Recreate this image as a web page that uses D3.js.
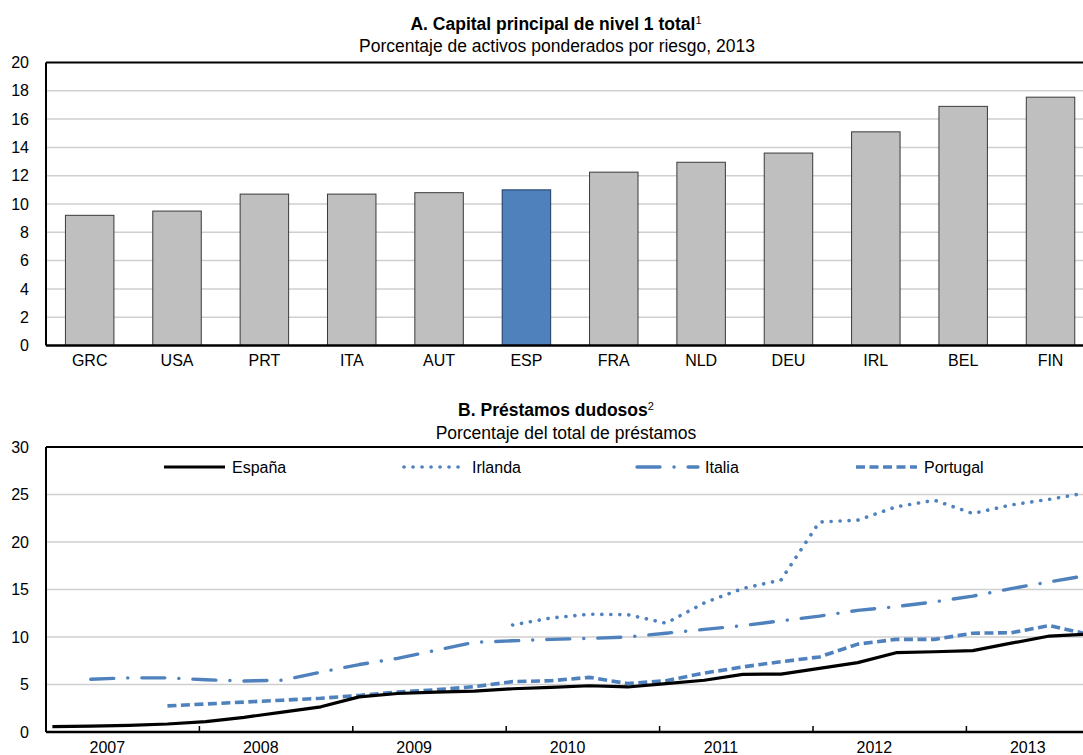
<!DOCTYPE html>
<html>
<head>
<meta charset="utf-8">
<script src="https://cdn.jsdelivr.net/npm/d3@7"></script>
<style>
  body { margin: 0; background: #fff; }
  text { font-family: "Liberation Sans", Arial, sans-serif; fill: #000; }
  .grid line { stroke: #cfcfcf; stroke-width: 1.5; }
  .tick text { font-size: 16px; }
</style>
</head>
<body>
<div id="chart"></div>
<script>
// panel A data
const countries = ["GRC", "USA", "PRT", "ITA", "AUT", "ESP", "FRA", "NLD", "DEU", "IRL", "BEL", "FIN"]
const capital = [9.2, 9.5, 10.7, 10.7, 10.8, 11.0, 12.25, 12.95, 13.6, 15.1, 16.9, 17.55]
const yTicksA = [0, 2, 4, 6, 8, 10, 12, 14, 16, 18, 20]

// panel B data (quarterly, month index of each observation)
const quarters = [0, 3, 6, 9, 12, 15, 18, 21, 24, 27, 30, 33, 36, 39, 42, 45, 48, 51, 54, 57, 60, 63, 66, 69, 72, 75, 78, 81]
const years = ["2007", "2008", "2009", "2010", "2011", "2012", "2013"]
const espana = [0.56, 0.62, 0.7, 0.84, 1.1, 1.54, 2.1, 2.65, 3.7, 4.05, 4.2, 4.3,
                4.55, 4.7, 4.87, 4.74, 5.1, 5.45, 6.07, 6.1, 6.7, 7.3, 8.35, 8.45,
                8.56, 9.35, 10.1, 10.3]
const irlanda = [null, null, null, null, null, null, null, null, null, null, null, null,
                 11.26, 12.0, 12.4, 12.35, 11.45, 13.6, 15.1, 16.0, 22.1, 22.3, 23.7, 24.4,
                 23.0, 23.9, 24.5, 25.2]
const italia = [null, 5.55, 5.7, 5.7, 5.5, 5.37, 5.45, 6.3, 7.1, 7.75, 8.6, 9.44,
                9.6, 9.75, 9.85, 10.0, 10.4, 10.8, 11.2, 11.7, 12.2, 12.8, 13.2, 13.7,
                14.3, 15.1, 15.8, 16.5]
const portugal = [null, null, null, 2.75, 2.95, 3.15, 3.35, 3.55, 3.85, 4.2, 4.45, 4.77,
                  5.3, 5.4, 5.75, 5.1, 5.4, 6.2, 6.85, 7.4, 7.9, 9.25, 9.75, 9.75,
                  10.4, 10.45, 11.2, 10.3]
const yTicksB = [0, 5, 10, 15, 20, 25, 30]

const width = 1083, height = 755
const blue = "#4f81bd"

const svg = d3.select("#chart")
  .append("svg")
    .attr("width", width)
    .attr("height", height)

// ---------- panel A ----------
const left = 46
const xA = d3.scaleBand()
    .domain(countries)
    .range([left, left + 12 * 87.35])
    .paddingInner(0.445)
    .paddingOuter(0.2225)
const yA = d3.scaleLinear().domain([0, 20]).range([345.5, 62.5])

svg.append("g")
    .attr("class", "grid")
  .selectAll("line")
  .data(yTicksA.filter(d => d > 0 && d < 20))
  .join("line")
    .attr("x1", left).attr("x2", width)
    .attr("y1", d => yA(d)).attr("y2", d => yA(d))

svg.append("g")
  .selectAll("rect")
  .data(countries)
  .join("rect")
    .attr("x", d => xA(d))
    .attr("width", xA.bandwidth())
    .attr("y", (d, i) => yA(capital[i]))
    .attr("height", (d, i) => yA(0) - yA(capital[i]))
    .attr("fill", d => d == "ESP" ? blue : "#bfbfbf")
    .attr("stroke", d => d == "ESP" ? "#1f3a60" : "#3a3a3a")
    .attr("stroke-width", 1)

svg.append("g")
    .attr("transform", `translate(${left},0)`)
    .call(d3.axisLeft(yA).tickValues(yTicksA).tickSize(0).tickPadding(17))
    .call(g => g.select(".domain").remove())

svg.append("g")
    .attr("transform", `translate(0,${yA(0)})`)
    .call(d3.axisBottom(xA).tickSize(0).tickPadding(9))
    .call(g => g.select(".domain").remove())

// frame
svg.append("line").attr("x1", left).attr("x2", width).attr("y1", yA(20)).attr("y2", yA(20))
    .attr("stroke", "#000").attr("stroke-width", 2)
svg.append("line").attr("x1", left).attr("x2", width).attr("y1", yA(0)).attr("y2", yA(0))
    .attr("stroke", "#000").attr("stroke-width", 2.5)
svg.append("line").attr("x1", left).attr("x2", left).attr("y1", yA(20)).attr("y2", yA(0))
    .attr("stroke", "#000").attr("stroke-width", 2)

const titleA = svg.append("text")
    .attr("x", 556).attr("y", 30)
    .attr("text-anchor", "middle")
    .style("font-size", "17.5px").style("font-weight", "bold")
titleA.append("tspan").text("A. Capital principal de nivel 1 total")
titleA.append("tspan").attr("dy", -6).style("font-size", "11px").style("font-weight", "normal").text("1")

svg.append("text")
    .attr("x", 557).attr("y", 52)
    .attr("text-anchor", "middle")
    .style("font-size", "17.5px")
    .text("Porcentaje de activos ponderados por riesgo, 2013")

// ---------- panel B ----------
const monthW = 153.4 / 12
const xB = d3.scaleLinear().domain([0, 84]).range([left, left + 84 * monthW])
const yB = d3.scaleLinear().domain([0, 30]).range([732, 447])

svg.append("g")
    .attr("class", "grid")
  .selectAll("line")
  .data(yTicksB.filter(d => d > 0 && d < 30))
  .join("line")
    .attr("x1", left).attr("x2", width)
    .attr("y1", d => yB(d)).attr("y2", d => yB(d))

svg.append("g")
    .attr("transform", `translate(${left},0)`)
    .call(d3.axisLeft(yB).tickValues(yTicksB).tickSize(0).tickPadding(17))
    .call(g => g.select(".domain").remove())

// year ticks (inside) and labels
svg.append("g")
  .selectAll("line")
  .data(years.slice(1))
  .join("line")
    .attr("x1", (d, i) => xB((i + 1) * 12)).attr("x2", (d, i) => xB((i + 1) * 12))
    .attr("y1", yB(0)).attr("y2", yB(0) - 6)
    .attr("stroke", "#000").attr("stroke-width", 1.5)

svg.append("g")
  .selectAll("text")
  .data(years)
  .join("text")
    .attr("x", (d, i) => xB(i * 12 + 4.8))
    .attr("y", 753)
    .attr("text-anchor", "middle")
    .style("font-size", "16px")
    .text(d => d)

const series = [
  {name: "España", values: espana, color: "#000", width: 3.2, dash: null, cap: "butt"},
  {name: "Irlanda", values: irlanda, color: blue, width: 3.6, dash: "0.1 8.9", cap: "round"},
  {name: "Italia", values: italia, color: blue, width: 3.4, dash: "23 14 0.1 14", cap: "round"},
  {name: "Portugal", values: portugal, color: blue, width: 3.6, dash: "9 4.5", cap: "butt"}
]

const line = d3.line()
    .defined(d => d[1] != null)
    .x(d => xB(d[0] + 0.5))
    .y(d => yB(d[1]))

// draw order: blue series first, España on top
svg.append("g")
  .selectAll("path")
  .data([series[1], series[2], series[3], series[0]])
  .join("path")
    .attr("d", s => line(quarters.map((q, i) => [q, s.values[i]]).filter(d => d[1] != null)))
    .attr("fill", "none")
    .attr("stroke", s => s.color)
    .attr("stroke-width", s => s.width)
    .attr("stroke-dasharray", s => s.dash)
    .attr("stroke-linecap", s => s.cap)
    .attr("stroke-linejoin", "round")

// frame
svg.append("line").attr("x1", left).attr("x2", width).attr("y1", yB(30)).attr("y2", yB(30))
    .attr("stroke", "#000").attr("stroke-width", 2)
svg.append("line").attr("x1", left).attr("x2", width).attr("y1", yB(0)).attr("y2", yB(0))
    .attr("stroke", "#000").attr("stroke-width", 2.5)
svg.append("line").attr("x1", left).attr("x2", left).attr("y1", yB(30)).attr("y2", yB(0))
    .attr("stroke", "#000").attr("stroke-width", 2)

// legend
const legendX = [164, 404, 637, 856]
const leg = svg.append("g")
  .selectAll("g")
  .data(series)
  .join("g")
    .attr("transform", (d, i) => `translate(${legendX[i]},467)`)
leg.append("line")
    .attr("x1", 0).attr("x2", 61)
    .attr("stroke", s => s.color)
    .attr("stroke-width", s => s.width)
    .attr("stroke-dasharray", s => s.dash)
    .attr("stroke-linecap", s => s.cap)
leg.append("text")
    .attr("x", 68).attr("y", 6)
    .style("font-size", "16px")
    .text(s => s.name)

const titleB = svg.append("text")
    .attr("x", 556).attr("y", 416)
    .attr("text-anchor", "middle")
    .style("font-size", "17.5px").style("font-weight", "bold")
titleB.append("tspan").text("B. Préstamos dudosos")
titleB.append("tspan").attr("dy", -6).style("font-size", "11px").style("font-weight", "normal").text("2")

svg.append("text")
    .attr("x", 566).attr("y", 439)
    .attr("text-anchor", "middle")
    .style("font-size", "17.5px")
    .text("Porcentaje del total de préstamos")
</script>
</body>
</html>
